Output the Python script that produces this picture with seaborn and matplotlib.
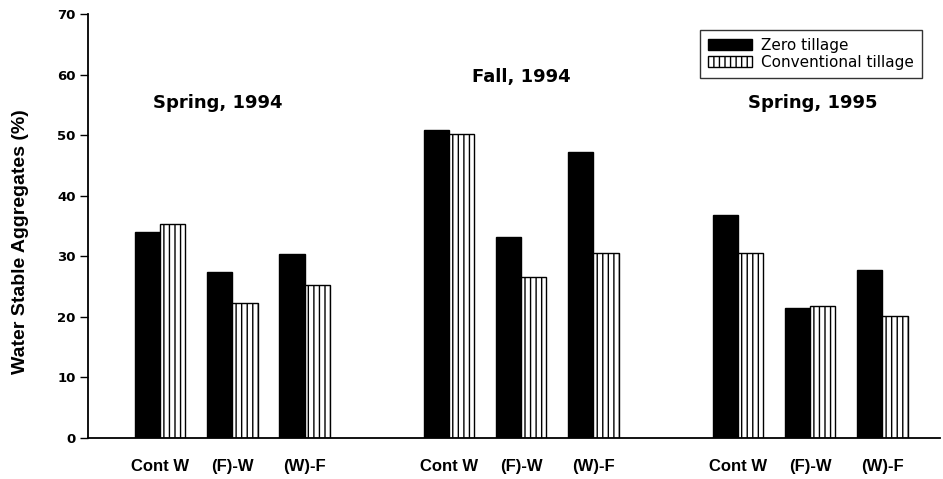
import matplotlib
matplotlib.use("Agg")
import matplotlib.pyplot as plt
from matplotlib.patches import Patch
import seaborn as sns
import pandas as pd

# ---- data ----
seasons = ["Spring, 1994", "Fall, 1994", "Spring, 1995"]
rotations = ["Cont W", "(F)-W", "(W)-F"]
tillage_levels = ["Zero tillage", "Conventional tillage"]
zero_tillage = [34.0, 27.4, 30.4, 50.8, 33.2, 47.2, 36.8, 21.5, 27.7]
conventional_tillage = [35.3, 22.3, 25.2, 50.2, 26.6, 30.5, 30.5, 21.8, 20.1]
y_ticks = [0, 10, 20, 30, 40, 50, 60, 70]

# ---- build table ----
rows = []
order = []
tick_labels = []
k = 0
for i, s in enumerate(seasons):
    if i > 0:
        order.append(f"gap{i}")
        tick_labels.append("")
    for r in rotations:
        slot = f"{s}|{r}"
        order.append(slot)
        tick_labels.append(r)
        rows.append({"slot": slot, "tillage": tillage_levels[0], "value": zero_tillage[k]})
        rows.append({"slot": slot, "tillage": tillage_levels[1], "value": conventional_tillage[k]})
        k += 1
df = pd.DataFrame(rows)

sns.set_style("white")
plt.rcParams["font.family"] = ["Liberation Sans", "DejaVu Sans"]
plt.rcParams["hatch.linewidth"] = 1.0
plt.rcParams["text.color"] = "black"
plt.rcParams["axes.labelcolor"] = "black"
plt.rcParams["xtick.color"] = "black"
plt.rcParams["ytick.color"] = "black"

fig = plt.figure(figsize=(9.43, 4.79), dpi=100)
ax = fig.add_axes([88 / 943, 1 - 438 / 479, (940 - 88) / 943, (438 - 14) / 479])

sns.barplot(data=df, x="slot", y="value", hue="tillage", order=order,
            hue_order=tillage_levels, palette=["black", "white"],
            width=0.7, saturation=1, errorbar=None, legend=False, ax=ax)

for c_i, cont in enumerate(ax.containers):
    for bar in cont:
        bar.set_edgecolor("black")
        bar.set_linewidth(1.0)
        if c_i == 1:
            bar.set_facecolor("white")
            bar.set_hatch("|||")
        else:
            bar.set_facecolor("black")

ax.set_xlim(-1.0, 10.8)
ax.set_ylim(0, 70)
ax.set_yticks(y_ticks)
ax.set_yticklabels([str(t) for t in y_ticks], fontfamily="DejaVu Sans",
                   fontweight="bold", fontsize=9.5)
ax.set_xticks(range(len(order)))
ax.set_xticklabels(tick_labels, fontweight="bold", fontsize=12)
ax.tick_params(axis="x", length=0, pad=15)
ax.tick_params(axis="y", length=6, width=1, direction="out", pad=3, left=True)
for side in ["top", "right"]:
    ax.spines[side].set_visible(False)
for side in ["left", "bottom"]:
    ax.spines[side].set_color("black")
    ax.spines[side].set_linewidth(1.3)

ax.set_xlabel("")
ax.set_ylabel("Water Stable Aggregates (%)", fontweight="bold", fontsize=14)
ax.yaxis.set_label_coords(-0.069, 0.462)

# group titles
title_pos = [(0.8, 55.3), (5.0, 59.6), (9.04, 55.3)]
for s, (tx, ty) in zip(seasons, title_pos):
    ax.text(tx, ty, s, ha="center", va="center", fontfamily="DejaVu Sans",
            fontweight="bold", fontsize=13, color="black")

handles = [Patch(facecolor="black", edgecolor="black", label=tillage_levels[0]),
           Patch(facecolor="white", edgecolor="black", hatch="|||", label=tillage_levels[1])]
leg = fig.legend(handles=handles, loc="upper right",
                 bbox_to_anchor=(922 / 943, 1 - 30 / 479), bbox_transform=fig.transFigure,
                 frameon=True, fancybox=False, borderaxespad=0,
                 prop={"family": "DejaVu Sans", "size": 11},
                 handlelength=2.9, handleheight=0.75, handletextpad=0.6,
                 labelspacing=0.15, borderpad=0.5)
leg.get_frame().set_edgecolor("black")
leg.get_frame().set_linewidth(1.0)

fig.savefig("out.png", dpi=100)
